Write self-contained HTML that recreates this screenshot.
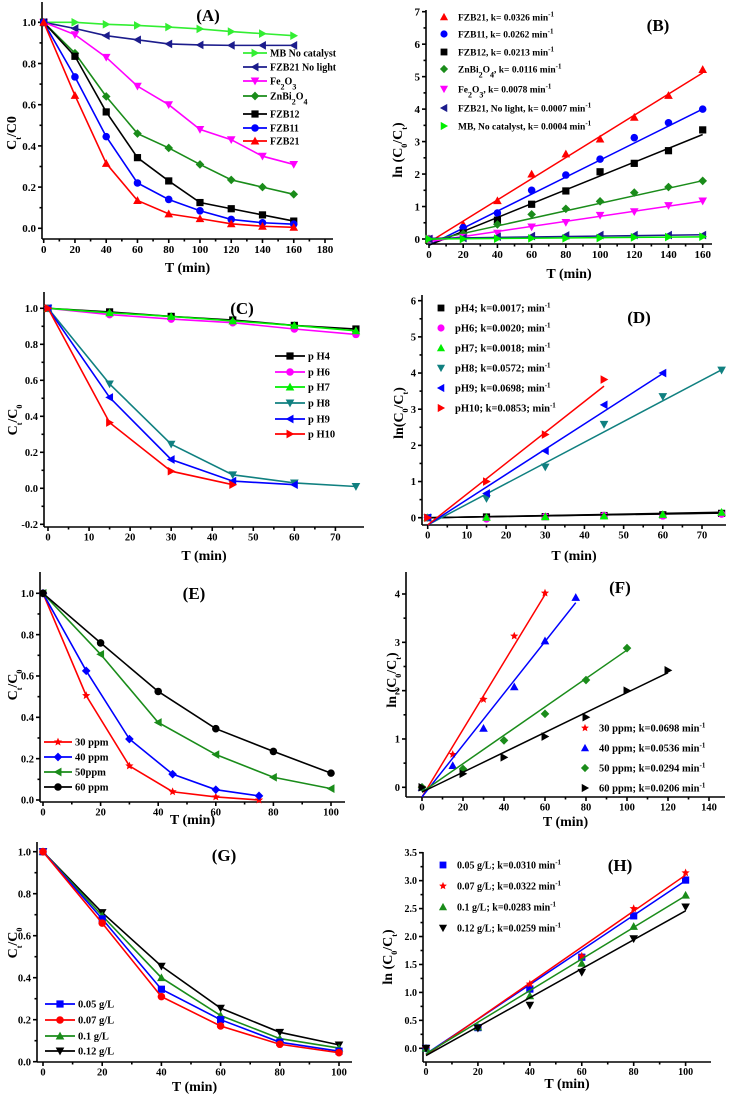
<!DOCTYPE html>
<html><head><meta charset="utf-8">
<style>
html,body{margin:0;padding:0;background:#fff;}
svg{display:block;font-family:"Liberation Serif",serif;font-weight:bold;}
</style></head>
<body>
<svg id="fig" width="729" height="1096" viewBox="0 0 729 1096" xmlns="http://www.w3.org/2000/svg"></svg>
<script>
// ---------- Panel A data ----------
const aX = [0,20,40,60,80,100,120,140,160];
const aMB = [1,1.0,0.99,0.985,0.977,0.968,0.955,0.945,0.935];
const aNL = [1,0.97,0.935,0.915,0.895,0.89,0.888,0.888,0.888];
const aFe = [1,0.94,0.83,0.69,0.6,0.48,0.43,0.35,0.31];
const aZn = [1,0.85,0.64,0.46,0.39,0.31,0.235,0.2,0.165];
const aF12 = [1,0.835,0.565,0.343,0.23,0.125,0.095,0.065,0.035];
const aF11 = [1,0.735,0.445,0.22,0.14,0.085,0.043,0.027,0.02];
const aF21 = [1,0.645,0.315,0.135,0.07,0.047,0.022,0.01,0.005];
// ---------- Panel B data ----------
const bX = [0,20,40,60,80,100,120,140,160];
const bF21 = [0,0.45,1.18,2.0,2.62,3.08,3.75,4.42,5.22];
const bF11 = [0,0.35,0.8,1.5,1.97,2.46,3.12,3.58,4.0];
const bF12 = [0,0.18,0.58,1.07,1.48,2.07,2.33,2.72,3.36];
const bZn = [0,0.16,0.45,0.76,0.93,1.16,1.43,1.6,1.79];
const bFe = [0,0.05,0.18,0.37,0.51,0.73,0.84,1.03,1.17];
const bNL = [0,0.03,0.07,0.09,0.11,0.12,0.12,0.12,0.12];
const bMB = [0,0,0.01,0.02,0.02,0.03,0.05,0.06,0.07];
const bK = [0.0326,0.0262,0.0213,0.0116,0.0078,0.0007,0.0004];
const bB = [-0.1,-0.19,-0.19,-0.06,-0.08,0.02,0.0];
// ---------- Panel C data ----------
const cX = [0,15,30,45,60,75];
const cPH4 = [1,0.98,0.955,0.935,0.905,0.885];
const cPH6 = [1,0.965,0.94,0.92,0.885,0.855];
const cPH7 = [1,0.975,0.955,0.93,0.905,0.875];
const cPH8 = [1,0.58,0.245,0.075,0.03,0.01];
const cPH9 = [1,0.505,0.16,0.04,0.02];
const cPH10 = [1,0.365,0.095,0.02];
// ---------- Panel D data ----------
const dX = [0,15,30,45,60,75];
const dPH4 = [0,0.02,0.03,0.06,0.08,0.12];
const dPH6 = [0,-0.03,0.03,0.06,0.05,0.1];
const dPH7 = [0,0.01,0.03,0.05,0.09,0.15];
const dPH8 = [0,0.53,1.4,2.58,3.35,4.08];
const dPH9 = [0,0.67,1.85,3.12,4.0];
const dPH10 = [0,1.0,2.3,3.82];
const dK = [0.0017,0.0020,0.0018,0.0572,0.0698,0.0853];
const dB = [0,0,0,-0.2,-0.2,-0.2];
// ---------- Panel E data ----------
const eX1 = [0,15,30,45,60,75];
const eX2 = [0,20,40,60,80,100];
const e30 = [1,0.505,0.165,0.04,0.015,0.0];
const e40 = [1,0.625,0.295,0.125,0.05,0.02];
const e50 = [1,0.705,0.375,0.22,0.11,0.055];
const e60 = [1,0.76,0.525,0.345,0.235,0.13];
// ---------- Panel F data ----------
const fX30 = [0,15,30,45,60];
const fX40 = [0,15,30,45,60,75];
const fX50 = [0,20,40,60,80,100];
const fX60 = [0,20,40,60,80,100,120];
const f30 = [0,0.68,1.82,3.13,4.02];
const f40 = [0,0.45,1.22,2.08,3.03,3.93];
const f50 = [0,0.38,0.97,1.52,2.22,2.88];
const f60 = [0,0.28,0.62,1.05,1.45,2.0,2.42];
const fK = [0.0698,0.0536,0.0294,0.0206];
const fB = [-0.2,-0.2,-0.1,-0.1];
// ---------- Panel G data ----------
const gX = [0,20,40,60,80,100];
const g05 = [1,0.68,0.345,0.2,0.093,0.05];
const g07 = [1,0.66,0.31,0.17,0.083,0.043];
const g10 = [1,0.695,0.4,0.22,0.11,0.065];
const g12 = [1,0.71,0.455,0.255,0.14,0.08];
// ---------- Panel H data ----------
const hX = [0,20,40,60,80,100];
const h05 = [0,0.37,1.06,1.63,2.37,3.01];
const h07 = [0,0.38,1.15,1.65,2.5,3.14];
const h10 = [0,0.38,0.94,1.52,2.18,2.74];
const h12 = [0,0.36,0.77,1.36,1.96,2.53];
const hK = [0.0310,0.0322,0.0283,0.0259];
const hB = [-0.1,-0.12,-0.1,-0.13];

const NS = "http://www.w3.org/2000/svg";
const svg = document.getElementById('fig');
function mk(tag, attrs, parent){
  const e = document.createElementNS(NS, tag);
  for (const k in attrs) e.setAttribute(k, attrs[k]);
  (parent||svg).appendChild(e);
  return e;
}
function marker(g, shape, x, y, r, color){
  let e;
  if (shape==='sq') e = mk('rect',{x:x-r,y:y-r,width:2*r,height:2*r,fill:color},g);
  else if (shape==='ci') e = mk('circle',{cx:x,cy:y,r:r*1.05,fill:color},g);
  else {
    let pts;
    const R=r*1.2;
    if (shape==='tu') pts=[[x,y-R],[x+R,y+R*0.8],[x-R,y+R*0.8]];
    if (shape==='td') pts=[[x,y+R],[x+R,y-R*0.8],[x-R,y-R*0.8]];
    if (shape==='tl') pts=[[x-R,y],[x+R*0.8,y-R],[x+R*0.8,y+R]];
    if (shape==='tr') pts=[[x+R,y],[x-R*0.8,y-R],[x-R*0.8,y+R]];
    if (shape==='di') pts=[[x,y-R],[x+R,y],[x,y+R],[x-R,y]];
    if (shape==='st'){pts=[];for(let i=0;i<10;i++){const a=-Math.PI/2+i*Math.PI/5;const rr=i%2?R*0.45:R;pts.push([x+rr*Math.cos(a),y+rr*Math.sin(a)]);}}
    e = mk('polygon',{points:pts.map(p=>p.join(',')).join(' '),fill:color},g);
  }
  return e;
}
function panel(cfg){
  const g = mk('g',{});
  
  
  const sx = v => cfg.xp[0] + (v-cfg.xr[0])*(cfg.xp[1]-cfg.xp[0])/(cfg.xr[1]-cfg.xr[0]);
  const sy = v => cfg.yp[0] + (v-cfg.yr[0])*(cfg.yp[1]-cfg.yp[0])/(cfg.yr[1]-cfg.yr[0]);
  const ax = mk('g',{stroke:'#000','stroke-width':1.6,fill:'none'},g);
  
  
  mk('line',{x1:cfg.left,y1:cfg.top,x2:cfg.left,y2:cfg.bottom},ax);
  mk('line',{x1:cfg.left,y1:cfg.bottom,x2:cfg.right,y2:cfg.bottom},ax);
  const fs = cfg.fs||11;
  // x ticks
  for (let v=cfg.xt[0]; v<=cfg.xt[1]+1e-9; v+=cfg.xt[2]/2){
    const major = Math.abs(Math.round(v/cfg.xt[2])*cfg.xt[2]-v)<1e-6;
    const X=sx(v); if (X>cfg.right+1) continue;
    mk('line',{x1:X,y1:cfg.bottom,x2:X,y2:cfg.bottom+(major?4:2.5)},ax);
    if (major){
      const t = mk('text',{x:X,y:cfg.bottom+fs+3,'text-anchor':'middle','font-size':fs},g);
      t.textContent = String(Math.round(v*100)/100);
      
      
    }
  }
  for (let v=cfg.yt[0]; v<=cfg.yt[1]+1e-9; v+=cfg.yt[2]/2){
    const major = Math.abs(Math.round((v-cfg.yt[0])/cfg.yt[2])*cfg.yt[2]-(v-cfg.yt[0]))<1e-6;
    const Y=sy(v); if (Y<cfg.top-1) continue;
    mk('line',{x1:cfg.left,y1:Y,x2:cfg.left-(major?4:2.5),y2:Y},ax);
    if (major){
      const t = mk('text',{x:cfg.left-6,y:Y+fs*0.35,'text-anchor':'end','font-size':fs},g);
      t.textContent = cfg.yd ? v.toFixed(cfg.yd) : String(Math.round(v*100)/100);
      
      
    }
  }
  const xt = mk('text',{x:(cfg.left+cfg.right)/2,y:cfg.xtY,'text-anchor':'middle','font-size':cfg.tfs||14},g);
  xt.textContent='T (min)';
  
  
  const yt = mk('text',{x:0,y:0,'text-anchor':'middle','font-size':cfg.tfs||14,transform:`translate(${cfg.ytX},${cfg.ytY}) rotate(-90)`},g);
  yt.innerHTML = cfg.ytitle;
  
  
  const pl = mk('text',{x:cfg.lab[0],y:cfg.lab[1],'text-anchor':'middle','font-size':17},g);
  pl.textContent = cfg.label;
  
  
  return {g,sx,sy};
}
function series(p, xs, ys, color, shape, name, lines){
  const g = mk('g',{},p.g);
  
  
  if (lines!==false){
    const d = ys.map((v,i)=>(i?'L':'M')+p.sx(xs[i])+','+p.sy(v)).join(' ');
    mk('path',{d:d,stroke:color,'stroke-width':1.6,fill:'none'},g);
  }
  ys.forEach((v,i)=>{
    const m = marker(g, shape, p.sx(xs[i]), p.sy(v), 3.6, color);
    
    
  });
}
function fit(p, k, b, x0, x1, color, name){
  const l = mk('line',{x1:p.sx(x0),y1:p.sy(b+k*x0),x2:p.sx(x1),y2:p.sy(b+k*x1),stroke:color,'stroke-width':1.5},p.g);
  
  
}
function legend(p, x, ys, items, lineLen, fs){
  items.forEach((it,i)=>{
    const g = mk('g',{},p.g);
    
    
    const y = ys[i];
    if (lineLen){
      mk('line',{x1:x,y1:y,x2:x+lineLen,y2:y,stroke:it[1],'stroke-width':1.8},g);
      marker(g,it[2],x+lineLen/2,y,3.6,it[1]);
    } else marker(g,it[2],x,y,3.4,it[1]);
    const t = mk('text',{x:x+(lineLen?lineLen+3:14),y:y+fs*0.35,'font-size':fs},g);
    t.innerHTML = it[0];
  });
}
const sub = s => `<tspan baseline-shift="sub" font-size="8">${s}</tspan>`;
const sup = s => `<tspan baseline-shift="super" font-size="7">${s}</tspan>`;
const RED='#ff0000',BLUE='#0000ff',BLK='#000',GRN='#1a8c1a',MAG='#ff00ff',NAVY='#1c1c8c',LIME='#33ee33',TEAL='#108080',BGRN='#00ee00';

// ---- A ----
const A = panel({name:'panel-a',xp:[43.7,325],xr:[0,180],yp:[228.3,22.3],yr:[0,1],left:42,right:333,top:2,bottom:239,xt:[0,180,20],yt:[0,1,0.2],yd:1,xtY:272,ytX:16,ytY:133,ytitle:'C'+sub('t')+'/C0',label:'(A)',lab:[208,21]});
series(A,aX,aMB,LIME,'tr','series-mb-no-catalyst');
series(A,aX,aNL,NAVY,'tl','series-fzb21-no-light');
series(A,aX,aFe,MAG,'td','series-fe2o3');
series(A,aX,aZn,GRN,'di','series-znbi2o4');
series(A,aX,aF12,BLK,'sq','series-fzb12');
series(A,aX,aF11,BLUE,'ci','series-fzb11');
series(A,aX,aF21,RED,'tu','series-fzb21');
legend(A,243,[53,67,81,96,114,128,141],[['MB No catalyst',LIME,'tr'],['FZB21 No light',NAVY,'tl'],['Fe'+sub('2')+'O'+sub('3'),MAG,'td'],['ZnBi'+sub('2')+'O'+sub('4'),GRN,'di'],['FZB12',BLK,'sq'],['FZB11',BLUE,'ci'],['FZB21',RED,'tu']],24,10);

// ---- B ----
const B = panel({name:'panel-b',xp:[429,702.7],xr:[0,160],yp:[239,11.7],yr:[0,7],left:426,right:712,top:10,bottom:244,xt:[0,160,20],yt:[0,7,1],xtY:278,ytX:402,ytY:150,ytitle:'ln (C'+sub('0')+'/C'+sub('t')+')',label:'(B)',lab:[658,31]});
const bSeries=[[bF21,RED,'tu'],[bF11,BLUE,'ci'],[bF12,BLK,'sq'],[bZn,GRN,'di'],[bFe,MAG,'td'],[bNL,NAVY,'tl'],[bMB,BGRN,'tr']];
bSeries.forEach((s,i)=>{ fit(B,bK[i],bB[i],0,160,s[1],'fit-line'); series(B,bX,s[0],s[1],s[2],'series-b-'+i,false); });
legend(B,444,[17,34,52,69,89,108,126],[
 ['FZB21, k= 0.0326 min'+sup('-1'),RED,'tu'],['FZB11, k= 0.0262 min'+sup('-1'),BLUE,'ci'],['FZB12, k= 0.0213 min'+sup('-1'),BLK,'sq'],
 ['ZnBi'+sub('2')+'O'+sub('4')+', k= 0.0116 min'+sup('-1'),GRN,'di'],['Fe'+sub('2')+'O'+sub('3')+', k= 0.0078 min'+sup('-1'),MAG,'td'],
 ['FZB21, No light, k= 0.0007 min'+sup('-1'),NAVY,'tl'],['MB, No catalyst, k= 0.0004 min'+sup('-1'),BGRN,'tr']],0,9.5);

// ---- C ----
const C = panel({name:'panel-c',xp:[48,335.4],xr:[0,70],yp:[488.3,308.3],yr:[0,1],left:44,right:364,top:292,bottom:527,xt:[0,70,10],yt:[-0.2,1,0.2],yd:1,xtY:560,ytX:17,ytY:420,ytitle:'C'+sub('t')+'/C'+sub('0'),label:'(C)',lab:[242,314],fs:10.5});
series(C,cX,cPH4,BLK,'sq','series-ph4');
series(C,cX,cPH6,MAG,'ci','series-ph6');
series(C,cX,cPH7,BGRN,'tu','series-ph7');
series(C,cX,cPH8,TEAL,'td','series-ph8');
series(C,cX.slice(0,5),cPH9,BLUE,'tl','series-ph9');
series(C,cX.slice(0,4),cPH10,RED,'tr','series-ph10');
legend(C,275,[356,372,387,403,419,434],[['p H4',BLK,'sq'],['p H6',MAG,'ci'],['p H7',BGRN,'tu'],['p H8',TEAL,'td'],['p H9',BLUE,'tl'],['p H10',RED,'tr']],30,10.5);

// ---- D ----
const D = panel({name:'panel-d',xp:[427.7,702],xr:[0,70],yp:[517.7,300.7],yr:[0,6],left:422,right:726,top:295,bottom:525,xt:[0,70,10],yt:[0,6,1],xtY:560,ytX:403,ytY:413,ytitle:'ln(C'+sub('0')+'/C'+sub('t')+')',label:'(D)',lab:[639,323],fs:10.5});
const dSeries=[[dPH4,BLK,'sq'],[dPH6,MAG,'ci'],[dPH7,BGRN,'tu'],[dPH8,TEAL,'td'],[dPH9,BLUE,'tl'],[dPH10,RED,'tr']];
const dEnd=[75,75,75,75,60,45];
dSeries.forEach((s,i)=>{ fit(D,dK[i],dB[i],0,dEnd[i],s[1]===MAG||s[1]===BGRN?BLK:s[1],'fit-line'); series(D,dX.slice(0,s[0].length),s[0],s[1],s[2],'series-d-'+i,false); });
legend(D,441,[308,328,348,368,388,408],[
 ['pH4; k=0.0017; min'+sup('-1'),BLK,'sq'],['pH6; k=0.0020; min'+sup('-1'),MAG,'ci'],['pH7; k=0.0018; min'+sup('-1'),BGRN,'tu'],
 ['pH8; k=0.0572; min'+sup('-1'),TEAL,'td'],['pH9; k=0.0698; min'+sup('-1'),BLUE,'tl'],['pH10; k=0.0853; min'+sup('-1'),RED,'tr']],0,10.5);

// ---- E ----
const E = panel({name:'panel-e',xp:[43,331],xr:[0,100],yp:[800,593.3],yr:[0,1],left:40,right:345,top:572,bottom:802,xt:[0,100,20],yt:[0,1,0.2],yd:1,xtY:824,ytX:17,ytY:685,ytitle:'C'+sub('t')+'/C'+sub('0'),label:'(E)',lab:[194,599],fs:10.5});
series(E,eX1,e30,RED,'st','series-30ppm');
series(E,eX1,e40,BLUE,'di','series-40ppm');
series(E,eX2,e50,GRN,'tl','series-50ppm');
series(E,eX2,e60,BLK,'ci','series-60ppm');
legend(E,44,[742,757,772,787],[['30 ppm',RED,'st'],['40 ppm',BLUE,'di'],['50ppm',GRN,'tl'],['60 ppm',BLK,'ci']],28,10.5);

// ---- F ----
const F = panel({name:'panel-f',xp:[422,709],xr:[0,140],yp:[787.3,594],yr:[0,4],left:406,right:725,top:572,bottom:797,xt:[0,140,20],yt:[0,4,1],xtY:826,ytX:396,ytY:680,ytitle:'ln (C'+sub('0')+'/C'+sub('t')+')',label:'(F)',lab:[620,593],fs:10.5});
const fSeries=[[fX30,f30,RED,'st'],[fX40,f40,BLUE,'tu'],[fX50,f50,GRN,'di'],[fX60,f60,BLK,'tr']];
fSeries.forEach((s,i)=>{ fit(F,fK[i],fB[i],0,s[0][s[0].length-1],s[2],'fit-line'); series(F,s[0],s[1],s[2],s[3],'series-f-'+i,false); });
legend(F,585,[728,748,768,788],[['30 ppm; k=0.0698 min'+sup('-1'),RED,'st'],['40 ppm; k=0.0536 min'+sup('-1'),BLUE,'tu'],['50 ppm; k=0.0294 min'+sup('-1'),GRN,'di'],['60 ppm; k=0.0206 min'+sup('-1'),BLK,'tr']],0,10.5);

// ---- G ----
const G = panel({name:'panel-g',xp:[43,339],xr:[0,100],yp:[1061.7,851.7],yr:[0,1],left:37,right:352,top:842,bottom:1062,xt:[0,100,20],yt:[0,1,0.2],yd:1,xtY:1091,ytX:17,ytY:943,ytitle:'C'+sub('t')+'/C'+sub('0'),label:'(G)',lab:[224,861],fs:10.5});
series(G,gX,g12,BLK,'td','series-0.12gL');
series(G,gX,g10,GRN,'tu','series-0.1gL');
series(G,gX,g05,BLUE,'sq','series-0.05gL');
series(G,gX,g07,RED,'ci','series-0.07gL');
legend(G,45,[1004,1020,1036,1051],[['0.05 g/L',BLUE,'sq'],['0.07 g/L',RED,'ci'],['0.1 g/L',GRN,'tu'],['0.12 g/L',BLK,'td']],30,10.5);

// ---- H ----
const H = panel({name:'panel-h',xp:[426,685.6],xr:[0,100],yp:[1048.3,852.7],yr:[0,3.5],left:423,right:711,top:852,bottom:1062,xt:[0,100,20],yt:[0,3.5,0.5],yd:1,xtY:1088,ytX:392,ytY:957,ytitle:'ln (C'+sub('0')+'/C'+sub('t')+')',label:'(H)',lab:[620,871],fs:10});
const hSeries=[[h05,BLUE,'sq'],[h07,RED,'st'],[h10,GRN,'tu'],[h12,BLK,'td']];
hSeries.forEach((s,i)=>{ fit(H,hK[i],hB[i],0,100,s[1],'fit-line'); series(H,hX,s[0],s[1],s[2],'series-h-'+i,false); });
legend(H,443,[865,886,907,928],[['0.05 g/L; k=0.0310 min'+sup('-1'),BLUE,'sq'],['0.07 g/L; k=0.0322 min'+sup('-1'),RED,'st'],['0.1 g/L; k=0.0283 min'+sup('-1'),GRN,'tu'],['0.12 g/L; k=0.0259 min'+sup('-1'),BLK,'td']],0,10);
</script>
</body></html>
